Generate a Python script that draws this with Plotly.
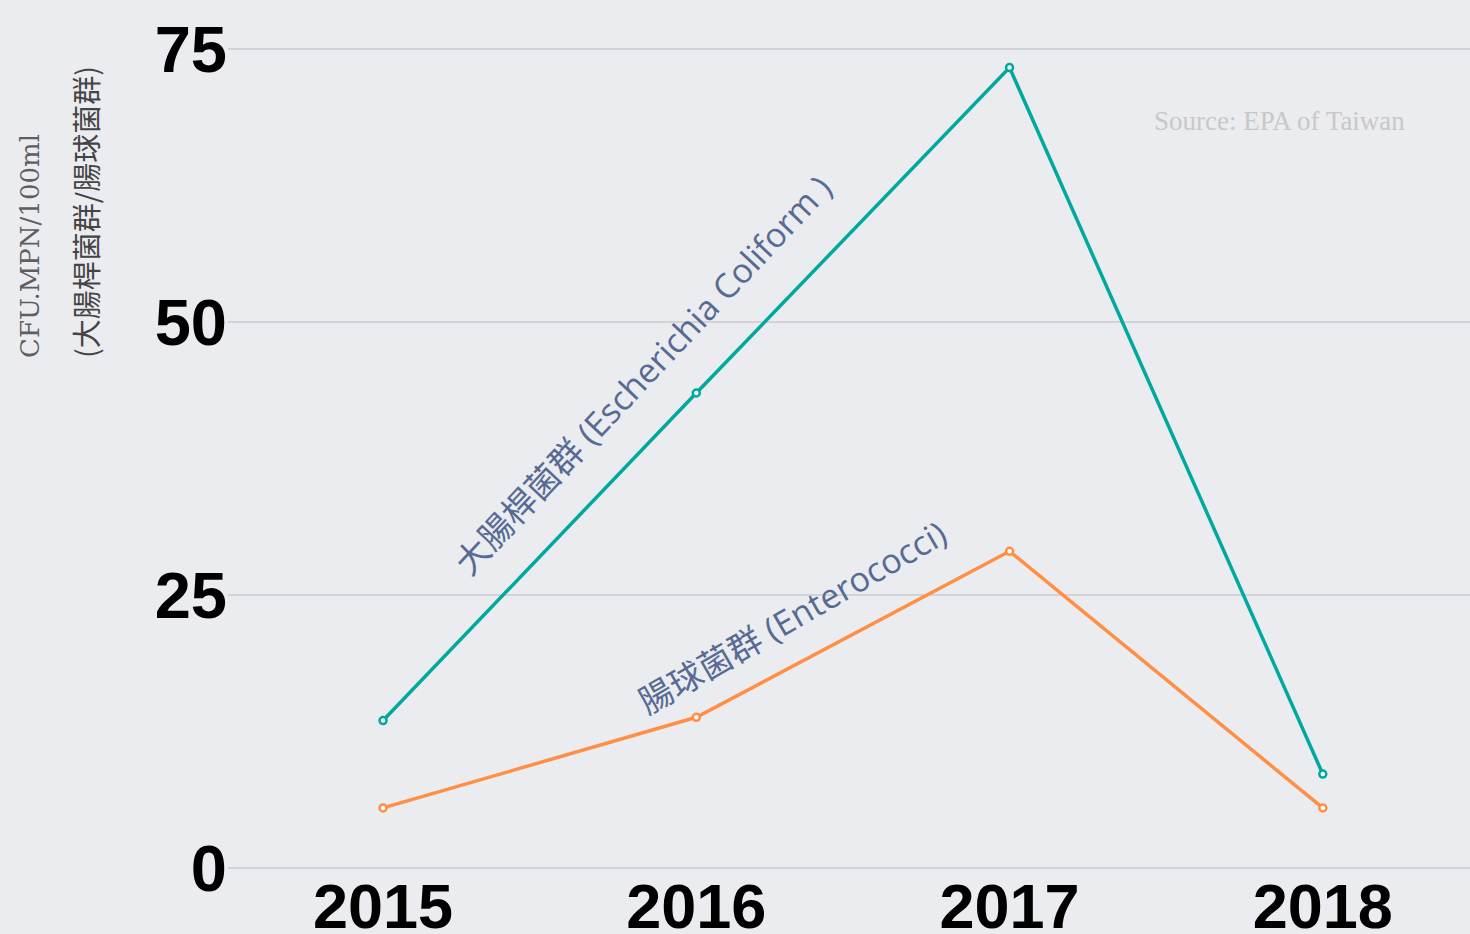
import plotly.graph_objects as go

years = [2015, 2016, 2017, 2018]
coliform = [13.5, 43.5, 73.3, 8.6]
enterococci = [5.5, 13.8, 29.0, 5.5]
y_ticks = [0, 25, 50, 75]

TEAL = "#00A99D"
ORANGE = "#FF8F45"
BG = "#EBECF0"
LABEL = "#566A94"

fig = go.Figure()
fig.add_trace(go.Scatter(
    x=years, y=coliform, mode="lines+markers",
    line=dict(color=TEAL, width=3.5),
    marker=dict(size=7, color="white", line=dict(color=TEAL, width=2.5)),
    showlegend=False))
fig.add_trace(go.Scatter(
    x=years, y=enterococci, mode="lines+markers",
    line=dict(color=ORANGE, width=3.5),
    marker=dict(size=7, color="white", line=dict(color=ORANGE, width=2.5)),
    showlegend=False))

fig.update_layout(
    width=1470, height=934,
    margin=dict(l=228, r=0, t=0, b=54),
    paper_bgcolor=BG, plot_bgcolor=BG,
    xaxis=dict(range=[2014.505, 2018.47], tickvals=years, ticktext=[str(y) for y in years],
               showgrid=False, zeroline=False, showline=False, ticks="", automargin=False,
               ticklabelstandoff=-16,
               tickfont=dict(family="Liberation Sans, Arial", size=63, color="black", weight="bold")),
    yaxis=dict(range=[-1.1, 79.49], tickvals=y_ticks, showgrid=True, gridcolor="#D2D3D8",
               gridwidth=1.5, zeroline=False, showline=False, ticks="", automargin=False,
               tickfont=dict(family="Liberation Sans, Arial", size=65, color="black", weight="bold")),
    annotations=[
        dict(text="大腸桿菌群 (Escherichia Coliform )", x=2015.827, y=45.15, xref="x", yref="y",
             showarrow=False, textangle=-46.8,
             font=dict(family="Open Sans, Noto Sans CJK TC", size=34, color=LABEL)),
        dict(text="腸球菌群 (Enterococci)", x=2016.305, y=23.0, xref="x", yref="y",
             showarrow=False, textangle=-30,
             font=dict(family="Open Sans, Noto Sans CJK TC", size=34, color=LABEL)),
        dict(text="Source: EPA of Taiwan", x=(1279 - 228) / 1242, y=(880 - 121) / 880,
             xref="paper", yref="paper", showarrow=False, xanchor="center", yanchor="middle",
             font=dict(family="Liberation Serif, DejaVu Serif", size=27, color="#C8C8C8")),
        dict(text="CFU.MPN/100ml", x=(30 - 228) / 1242, y=(880 - 360) / 880,
             xref="paper", yref="paper", showarrow=False, xanchor="center", yanchor="bottom",
             textangle=-90,
             font=dict(family="DejaVu Serif", size=26, color="#5E5E5E")),
        dict(text="(大腸桿菌群/腸球菌群)", x=(85 - 228) / 1242, y=(880 - 360) / 880,
             xref="paper", yref="paper", showarrow=False, xanchor="center", yanchor="bottom",
             textangle=-90,
             font=dict(family="Noto Sans CJK TC", size=29, color="#444444")),
    ],
)

fig.write_html("out.html")
